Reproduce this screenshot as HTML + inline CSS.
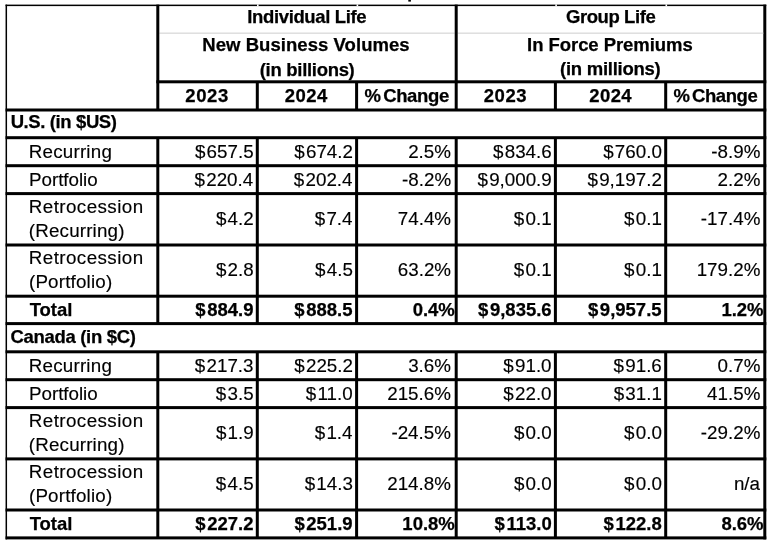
<!DOCTYPE html>
<html><head><meta charset="utf-8"><style>
html,body{margin:0;padding:0;background:#fff;width:772px;height:547px;overflow:hidden;position:relative}
div{position:absolute}
.t{font-family:"Liberation Sans", sans-serif;line-height:20px;white-space:nowrap;color:#000}
.b{-webkit-text-stroke:0.25px #000}
.r{-webkit-text-stroke:0.15px #000}
#w{position:absolute;left:0;top:0;width:772px;height:547px;filter:grayscale(1)}
</style></head><body><div id="w">
<svg class="l" width="772" height="547" style="position:absolute;left:0;top:0"><rect x="5.55" y="4.60" width="760.75" height="1.50" fill="#000"/><rect x="5.55" y="4.60" width="1.50" height="534.80" fill="#000"/><rect x="763.30" y="4.60" width="3.00" height="534.80" fill="#000"/><rect x="5.55" y="536.40" width="760.75" height="3.00" fill="#000"/><rect x="156.30" y="80.30" width="610.00" height="3.00" fill="#000"/><rect x="159.30" y="32.60" width="295.40" height="1.10" fill="#d2d2d2"/><rect x="457.70" y="32.60" width="305.60" height="1.10" fill="#d2d2d2"/><rect x="5.55" y="108.50" width="760.75" height="3.00" fill="#000"/><rect x="5.55" y="136.20" width="760.75" height="3.00" fill="#000"/><rect x="5.55" y="164.20" width="760.75" height="3.00" fill="#000"/><rect x="5.55" y="192.10" width="760.75" height="3.00" fill="#000"/><rect x="5.55" y="243.50" width="760.75" height="3.00" fill="#000"/><rect x="5.55" y="294.70" width="760.75" height="3.00" fill="#000"/><rect x="5.55" y="322.10" width="760.75" height="3.00" fill="#000"/><rect x="5.55" y="350.30" width="760.75" height="3.00" fill="#000"/><rect x="5.55" y="378.20" width="760.75" height="3.00" fill="#000"/><rect x="5.55" y="406.10" width="760.75" height="3.00" fill="#000"/><rect x="5.55" y="457.40" width="760.75" height="3.00" fill="#000"/><rect x="5.55" y="508.50" width="760.75" height="3.00" fill="#000"/><rect x="156.30" y="4.60" width="3.00" height="105.40" fill="#000"/><rect x="454.70" y="4.60" width="3.00" height="105.40" fill="#000"/><rect x="255.80" y="81.80" width="3.00" height="28.20" fill="#000"/><rect x="355.10" y="81.80" width="3.00" height="28.20" fill="#000"/><rect x="553.90" y="81.80" width="3.00" height="28.20" fill="#000"/><rect x="664.20" y="81.80" width="3.00" height="28.20" fill="#000"/><rect x="156.30" y="137.70" width="3.00" height="185.90" fill="#000"/><rect x="156.30" y="351.80" width="3.00" height="186.10" fill="#000"/><rect x="255.80" y="137.70" width="3.00" height="185.90" fill="#000"/><rect x="255.80" y="351.80" width="3.00" height="186.10" fill="#000"/><rect x="355.10" y="137.70" width="3.00" height="185.90" fill="#000"/><rect x="355.10" y="351.80" width="3.00" height="186.10" fill="#000"/><rect x="454.70" y="137.70" width="3.00" height="185.90" fill="#000"/><rect x="454.70" y="351.80" width="3.00" height="186.10" fill="#000"/><rect x="553.90" y="137.70" width="3.00" height="185.90" fill="#000"/><rect x="553.90" y="351.80" width="3.00" height="186.10" fill="#000"/><rect x="664.20" y="137.70" width="3.00" height="185.90" fill="#000"/><rect x="664.20" y="351.80" width="3.00" height="186.10" fill="#000"/><rect x="257.00" y="4.40" width="1.60" height="1.90" fill="#fff"/><rect x="356.60" y="4.40" width="1.60" height="1.90" fill="#fff"/><rect x="555.30" y="4.40" width="1.60" height="1.90" fill="#fff"/><rect x="665.50" y="4.40" width="1.60" height="1.90" fill="#fff"/><rect x="408.30" y="0.00" width="2.60" height="1.60" fill="#000"/></svg>
<div class="t b" id="t0" style="left:6.75px;width:600px;text-align:center;top:6.69px;font-size:18.5px;font-weight:bold;letter-spacing:-0.370px;"><span>Individual Life</span></div>
<div class="t b" id="t1" style="left:5.98px;width:600px;text-align:center;top:35.19px;font-size:18.5px;font-weight:bold;letter-spacing:0.057px;"><span>New Business Volumes</span></div>
<div class="t b" id="t2" style="left:7.14px;width:600px;text-align:center;top:59.99px;font-size:18.5px;font-weight:bold;letter-spacing:-0.303px;"><span>(in billions)</span></div>
<div class="t b" id="t3" style="left:310.62px;width:600px;text-align:center;top:6.89px;font-size:18.5px;font-weight:bold;letter-spacing:-0.418px;"><span>Group Life</span></div>
<div class="t b" id="t4" style="left:309.91px;width:600px;text-align:center;top:34.99px;font-size:18.5px;font-weight:bold;letter-spacing:-0.054px;"><span>In Force Premiums</span></div>
<div class="t b" id="t5" style="left:310.28px;width:600px;text-align:center;top:59.49px;font-size:18.5px;font-weight:bold;letter-spacing:-0.262px;"><span>(in millions)</span></div>
<div class="t b" id="t6" style="left:-92.93px;width:600px;text-align:center;top:86.49px;font-size:18.5px;font-weight:bold;letter-spacing:0.588px;"><span>2023</span></div>
<div class="t b" id="t7" style="left:6.25px;width:600px;text-align:center;top:86.49px;font-size:18.5px;font-weight:bold;letter-spacing:0.469px;"><span>2024</span></div>
<div class="t b" id="t8" style="left:106.69px;width:600px;text-align:center;top:86.49px;font-size:18.5px;font-weight:bold;letter-spacing:-0.347px;word-spacing:-2.2px;"><span>% Change</span></div>
<div class="t b" id="t9" style="left:205.48px;width:600px;text-align:center;top:86.49px;font-size:18.5px;font-weight:bold;letter-spacing:0.593px;"><span>2023</span></div>
<div class="t b" id="t10" style="left:310.69px;width:600px;text-align:center;top:86.49px;font-size:18.5px;font-weight:bold;letter-spacing:0.373px;"><span>2024</span></div>
<div class="t b" id="t11" style="left:415.43px;width:600px;text-align:center;top:86.49px;font-size:18.5px;font-weight:bold;letter-spacing:-0.437px;word-spacing:-2.2px;"><span>% Change</span></div>
<div class="t b" id="t12" style="left:10.66px;top:112.49px;font-size:18.5px;font-weight:bold;letter-spacing:-0.393px;"><span>U.S. (in $US)</span></div>
<div class="t r" id="t13" style="left:28.80px;top:141.79px;font-size:18.8px;font-weight:normal;letter-spacing:0.201px;"><span>Recurring</span></div>
<div class="t r" id="t14" style="right:518.41px;top:141.79px;font-size:18.8px;font-weight:normal;"><span><span style="letter-spacing:1.2px">$</span>657.5</span></div>
<div class="t r" id="t15" style="right:419.02px;top:141.79px;font-size:18.8px;font-weight:normal;"><span><span style="letter-spacing:1.2px">$</span>674.2</span></div>
<div class="t r" id="t16" style="right:321.07px;top:141.79px;font-size:18.8px;font-weight:normal;"><span>2.5%</span></div>
<div class="t r" id="t17" style="right:220.30px;top:141.79px;font-size:18.8px;font-weight:normal;"><span><span style="letter-spacing:1.2px">$</span>834.6</span></div>
<div class="t r" id="t18" style="right:110.15px;top:141.79px;font-size:18.8px;font-weight:normal;"><span><span style="letter-spacing:1.2px">$</span>760.0</span></div>
<div class="t r" id="t19" style="right:11.66px;top:141.79px;font-size:18.8px;font-weight:normal;"><span>-8.9%</span></div>
<div class="t r" id="t20" style="left:29.03px;top:170.09px;font-size:18.8px;font-weight:normal;letter-spacing:-0.025px;"><span>Portfolio</span></div>
<div class="t r" id="t21" style="right:518.78px;top:170.09px;font-size:18.8px;font-weight:normal;"><span><span style="letter-spacing:1.2px">$</span>220.4</span></div>
<div class="t r" id="t22" style="right:419.49px;top:170.09px;font-size:18.8px;font-weight:normal;"><span><span style="letter-spacing:1.2px">$</span>202.4</span></div>
<div class="t r" id="t23" style="right:320.93px;top:170.09px;font-size:18.8px;font-weight:normal;"><span>-8.2%</span></div>
<div class="t r" id="t24" style="right:220.21px;top:170.09px;font-size:18.8px;font-weight:normal;"><span><span style="letter-spacing:1.2px">$</span>9,000.9</span></div>
<div class="t r" id="t25" style="right:110.17px;top:170.09px;font-size:18.8px;font-weight:normal;"><span><span style="letter-spacing:1.2px">$</span>9,197.2</span></div>
<div class="t r" id="t26" style="right:11.63px;top:170.09px;font-size:18.8px;font-weight:normal;"><span>2.2%</span></div>
<div class="t r" id="t27" style="left:28.77px;top:196.69px;font-size:18.8px;font-weight:normal;letter-spacing:0.432px;"><span>Retrocession</span></div>
<div class="t r" id="t28" style="left:28.84px;top:221.19px;font-size:18.8px;font-weight:normal;letter-spacing:0.169px;"><span>(Recurring)</span></div>
<div class="t r" id="t29" style="right:518.37px;top:208.94px;font-size:18.8px;font-weight:normal;"><span><span style="letter-spacing:1.2px">$</span>4.2</span></div>
<div class="t r" id="t30" style="right:419.49px;top:208.94px;font-size:18.8px;font-weight:normal;"><span><span style="letter-spacing:1.2px">$</span>7.4</span></div>
<div class="t r" id="t31" style="right:320.93px;top:208.94px;font-size:18.8px;font-weight:normal;"><span>74.4%</span></div>
<div class="t r" id="t32" style="right:220.40px;top:208.94px;font-size:18.8px;font-weight:normal;"><span><span style="letter-spacing:1.2px">$</span>0.1</span></div>
<div class="t r" id="t33" style="right:110.14px;top:208.94px;font-size:18.8px;font-weight:normal;"><span><span style="letter-spacing:1.2px">$</span>0.1</span></div>
<div class="t r" id="t34" style="right:11.66px;top:208.94px;font-size:18.8px;font-weight:normal;"><span>-17.4%</span></div>
<div class="t r" id="t35" style="left:28.77px;top:247.89px;font-size:18.8px;font-weight:normal;letter-spacing:0.432px;"><span>Retrocession</span></div>
<div class="t r" id="t36" style="left:28.95px;top:272.39px;font-size:18.8px;font-weight:normal;letter-spacing:0.185px;"><span>(Portfolio)</span></div>
<div class="t r" id="t37" style="right:518.37px;top:260.14px;font-size:18.8px;font-weight:normal;"><span><span style="letter-spacing:1.2px">$</span>2.8</span></div>
<div class="t r" id="t38" style="right:419.15px;top:260.14px;font-size:18.8px;font-weight:normal;"><span><span style="letter-spacing:1.2px">$</span>4.5</span></div>
<div class="t r" id="t39" style="right:320.93px;top:260.14px;font-size:18.8px;font-weight:normal;"><span>63.2%</span></div>
<div class="t r" id="t40" style="right:220.40px;top:260.14px;font-size:18.8px;font-weight:normal;"><span><span style="letter-spacing:1.2px">$</span>0.1</span></div>
<div class="t r" id="t41" style="right:110.14px;top:260.14px;font-size:18.8px;font-weight:normal;"><span><span style="letter-spacing:1.2px">$</span>0.1</span></div>
<div class="t r" id="t42" style="right:11.63px;top:260.14px;font-size:18.8px;font-weight:normal;"><span>179.2%</span></div>
<div class="t b" id="t43" style="left:29.65px;top:300.39px;font-size:18.5px;font-weight:bold;letter-spacing:-0.034px;"><span>Total</span></div>
<div class="t b" id="t44" style="right:518.47px;top:300.39px;font-size:18.5px;font-weight:bold;"><span><span style="letter-spacing:1.6px">$</span>884.9</span></div>
<div class="t b" id="t45" style="right:419.46px;top:300.39px;font-size:18.5px;font-weight:bold;"><span><span style="letter-spacing:1.6px">$</span>888.5</span></div>
<div class="t b" id="t46" style="right:317.18px;top:300.39px;font-size:18.5px;font-weight:bold;"><span>0.4%</span></div>
<div class="t b" id="t47" style="right:220.34px;top:300.39px;font-size:18.5px;font-weight:bold;"><span><span style="letter-spacing:1.6px">$</span>9,835.6</span></div>
<div class="t b" id="t48" style="right:110.41px;top:300.39px;font-size:18.5px;font-weight:bold;"><span><span style="letter-spacing:1.6px">$</span>9,957.5</span></div>
<div class="t b" id="t49" style="right:8.44px;top:300.39px;font-size:18.5px;font-weight:bold;"><span>1.2%</span></div>
<div class="t b" id="t50" style="left:10.50px;top:326.59px;font-size:18.5px;font-weight:bold;letter-spacing:-0.321px;"><span>Canada (in $C)</span></div>
<div class="t r" id="t51" style="left:28.80px;top:355.99px;font-size:18.8px;font-weight:normal;letter-spacing:0.201px;"><span>Recurring</span></div>
<div class="t r" id="t52" style="right:518.49px;top:355.99px;font-size:18.8px;font-weight:normal;"><span><span style="letter-spacing:1.2px">$</span>217.3</span></div>
<div class="t r" id="t53" style="right:419.02px;top:355.99px;font-size:18.8px;font-weight:normal;"><span><span style="letter-spacing:1.2px">$</span>225.2</span></div>
<div class="t r" id="t54" style="right:321.07px;top:355.99px;font-size:18.8px;font-weight:normal;"><span>3.6%</span></div>
<div class="t r" id="t55" style="right:220.44px;top:355.99px;font-size:18.8px;font-weight:normal;"><span><span style="letter-spacing:1.2px">$</span>91.0</span></div>
<div class="t r" id="t56" style="right:110.18px;top:355.99px;font-size:18.8px;font-weight:normal;"><span><span style="letter-spacing:1.2px">$</span>91.6</span></div>
<div class="t r" id="t57" style="right:11.63px;top:355.99px;font-size:18.8px;font-weight:normal;"><span>0.7%</span></div>
<div class="t r" id="t58" style="left:29.03px;top:383.99px;font-size:18.8px;font-weight:normal;letter-spacing:-0.025px;"><span>Portfolio</span></div>
<div class="t r" id="t59" style="right:518.41px;top:383.99px;font-size:18.8px;font-weight:normal;"><span><span style="letter-spacing:1.2px">$</span>3.5</span></div>
<div class="t r" id="t60" style="right:419.35px;top:383.99px;font-size:18.8px;font-weight:normal;"><span><span style="letter-spacing:1.2px">$</span>11.0</span></div>
<div class="t r" id="t61" style="right:321.07px;top:383.99px;font-size:18.8px;font-weight:normal;"><span>215.6%</span></div>
<div class="t r" id="t62" style="right:220.44px;top:383.99px;font-size:18.8px;font-weight:normal;"><span><span style="letter-spacing:1.2px">$</span>22.0</span></div>
<div class="t r" id="t63" style="right:110.14px;top:383.99px;font-size:18.8px;font-weight:normal;"><span><span style="letter-spacing:1.2px">$</span>31.1</span></div>
<div class="t r" id="t64" style="right:11.65px;top:383.99px;font-size:18.8px;font-weight:normal;"><span>41.5%</span></div>
<div class="t r" id="t65" style="left:28.77px;top:410.79px;font-size:18.8px;font-weight:normal;letter-spacing:0.432px;"><span>Retrocession</span></div>
<div class="t r" id="t66" style="left:28.84px;top:435.29px;font-size:18.8px;font-weight:normal;letter-spacing:0.169px;"><span>(Recurring)</span></div>
<div class="t r" id="t67" style="right:518.34px;top:423.04px;font-size:18.8px;font-weight:normal;"><span><span style="letter-spacing:1.2px">$</span>1.9</span></div>
<div class="t r" id="t68" style="right:419.49px;top:423.04px;font-size:18.8px;font-weight:normal;"><span><span style="letter-spacing:1.2px">$</span>1.4</span></div>
<div class="t r" id="t69" style="right:321.07px;top:423.04px;font-size:18.8px;font-weight:normal;"><span>-24.5%</span></div>
<div class="t r" id="t70" style="right:220.37px;top:423.04px;font-size:18.8px;font-weight:normal;"><span><span style="letter-spacing:1.2px">$</span>0.0</span></div>
<div class="t r" id="t71" style="right:110.15px;top:423.04px;font-size:18.8px;font-weight:normal;"><span><span style="letter-spacing:1.2px">$</span>0.0</span></div>
<div class="t r" id="t72" style="right:11.66px;top:423.04px;font-size:18.8px;font-weight:normal;"><span>-29.2%</span></div>
<div class="t r" id="t73" style="left:28.77px;top:461.99px;font-size:18.8px;font-weight:normal;letter-spacing:0.432px;"><span>Retrocession</span></div>
<div class="t r" id="t74" style="left:28.95px;top:486.49px;font-size:18.8px;font-weight:normal;letter-spacing:0.185px;"><span>(Portfolio)</span></div>
<div class="t r" id="t75" style="right:518.41px;top:474.24px;font-size:18.8px;font-weight:normal;"><span><span style="letter-spacing:1.2px">$</span>4.5</span></div>
<div class="t r" id="t76" style="right:419.09px;top:474.24px;font-size:18.8px;font-weight:normal;"><span><span style="letter-spacing:1.2px">$</span>14.3</span></div>
<div class="t r" id="t77" style="right:321.07px;top:474.24px;font-size:18.8px;font-weight:normal;"><span>214.8%</span></div>
<div class="t r" id="t78" style="right:220.37px;top:474.24px;font-size:18.8px;font-weight:normal;"><span><span style="letter-spacing:1.2px">$</span>0.0</span></div>
<div class="t r" id="t79" style="right:110.15px;top:474.24px;font-size:18.8px;font-weight:normal;"><span><span style="letter-spacing:1.2px">$</span>0.0</span></div>
<div class="t r" id="t80" style="right:12.03px;top:474.24px;font-size:18.8px;font-weight:normal;"><span>n/a</span></div>
<div class="t b" id="t81" style="left:29.65px;top:514.39px;font-size:18.5px;font-weight:bold;letter-spacing:-0.034px;"><span>Total</span></div>
<div class="t b" id="t82" style="right:518.49px;top:514.39px;font-size:18.5px;font-weight:bold;"><span><span style="letter-spacing:1.6px">$</span>227.2</span></div>
<div class="t b" id="t83" style="right:419.45px;top:514.39px;font-size:18.5px;font-weight:bold;"><span><span style="letter-spacing:1.6px">$</span>251.9</span></div>
<div class="t b" id="t84" style="right:317.19px;top:514.39px;font-size:18.5px;font-weight:bold;"><span>10.8%</span></div>
<div class="t b" id="t85" style="right:220.26px;top:514.39px;font-size:18.5px;font-weight:bold;"><span><span style="letter-spacing:1.6px">$</span>113.0</span></div>
<div class="t b" id="t86" style="right:110.33px;top:514.39px;font-size:18.5px;font-weight:bold;"><span><span style="letter-spacing:1.6px">$</span>122.8</span></div>
<div class="t b" id="t87" style="right:8.44px;top:514.39px;font-size:18.5px;font-weight:bold;"><span>8.6%</span></div>
</div></body></html>
